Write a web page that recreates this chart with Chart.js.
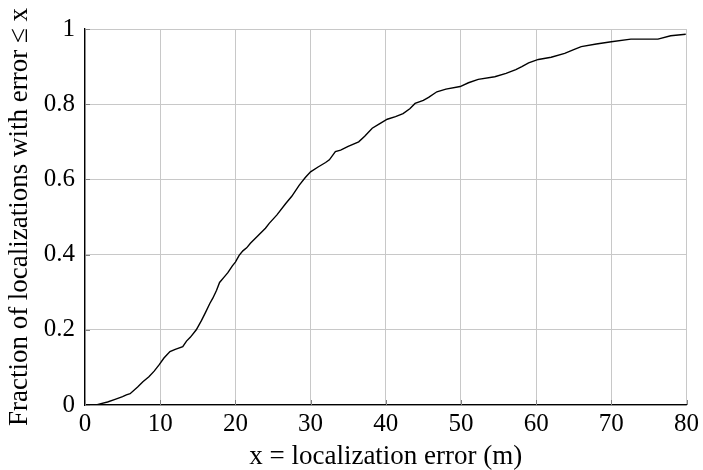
<!DOCTYPE html>
<html>
<head>
<meta charset="utf-8">
<script src="https://cdn.jsdelivr.net/npm/chart.js@4/dist/chart.umd.min.js"></script>
<style>
  html, body { margin: 0; padding: 0; background: #fff; }
  #wrap { width: 703px; height: 470px; }
</style>
</head>
<body>
<div id="wrap"><canvas id="cdf" width="703" height="470"></canvas></div>
<script>
// Empirical CDF of localization error
const errorM = [1.5, 2, 3, 4, 5, 5.5, 6, 7, 7.7, 8.5, 9.2, 9.9, 10.5, 11.3, 12, 13, 13.5, 14, 14.8,
  15.5, 16, 16.6, 17, 17.5, 17.9, 18.5, 19, 19.6, 20, 20.5, 21, 21.5, 22, 23, 24, 24.5, 25.5,
  26.7, 27.5, 28.5, 29.3, 30, 31, 32, 32.5, 33.3, 34, 35, 36.4, 37.2, 38.2, 39.1, 40.2, 41.3,
  42.3, 43.2, 43.9, 45, 45.7, 46.8, 48, 49.9, 51, 52.3, 54.5, 56, 57.3, 58.1, 59, 60.3, 62,
  63.8, 65, 66, 68, 70, 72.6, 76.2, 77.9, 79.9];
const fraction = [0, 0.003, 0.008, 0.015, 0.022, 0.027, 0.03, 0.048, 0.062, 0.075, 0.09, 0.108,
  0.125, 0.142, 0.148, 0.155, 0.17, 0.18, 0.2, 0.225, 0.245, 0.27, 0.284, 0.305, 0.326, 0.34,
  0.352, 0.37, 0.38, 0.398, 0.41, 0.418, 0.43, 0.45, 0.47, 0.483, 0.505, 0.536, 0.555, 0.585,
  0.605, 0.62, 0.633, 0.645, 0.652, 0.674, 0.678, 0.688, 0.70, 0.715, 0.736, 0.747, 0.76,
  0.767, 0.775, 0.788, 0.802, 0.81, 0.818, 0.833, 0.84, 0.847, 0.857, 0.866, 0.873, 0.882,
  0.892, 0.90, 0.91, 0.919, 0.925, 0.935, 0.945, 0.953, 0.96, 0.966, 0.973, 0.973, 0.982, 0.986];

const xTickValues = [0, 10, 20, 30, 40, 50, 60, 70, 80];
const xTickLabels = ['0', '10', '20', '30', '40', '50', '60', '70', '80'];
const yTickValues = [0, 0.2, 0.4, 0.6, 0.8, 1];
const yTickLabels = ['0', '0.2', '0.4', '0.6', '0.8', '1'];

const xTitle = 'x = localization error (m)';
const yTitle = 'Fraction of localizations with error \u2264 x';

const FONT = '"Liberation Serif", "DejaVu Serif", serif';
const GRID = '#c8c8c8';

function labelFor(values, labels, v) {
  const i = values.findIndex(t => Math.abs(t - v) < 1e-9);
  return i >= 0 ? labels[i] : '';
}

// short inward tick marks along the left and bottom axis lines
const innerTicks = {
  id: 'innerTicks',
  afterDatasetsDraw(chart) {
    const { ctx, chartArea, scales } = chart;
    ctx.save();
    ctx.strokeStyle = '#808080';
    ctx.lineWidth = 1;
    ctx.beginPath();
    xTickValues.forEach(v => {
      const px = Math.round(scales.x.getPixelForValue(v)) + 0.5;
      ctx.moveTo(px, chartArea.bottom);
      ctx.lineTo(px, chartArea.bottom - 5);
    });
    yTickValues.forEach(v => {
      const py = Math.round(scales.y.getPixelForValue(v)) + 0.5;
      ctx.moveTo(chartArea.left, py);
      ctx.lineTo(chartArea.left + 5, py);
    });
    ctx.stroke();
    ctx.restore();
  }
};

const points = errorM.map((x, i) => ({ x, y: fraction[i] }));

new Chart(document.getElementById('cdf'), {
  type: 'line',
  data: {
    datasets: [{
      data: points,
      borderColor: '#000',
      borderWidth: 1.4,
      pointRadius: 0,
      tension: 0,
      fill: false
    }]
  },
  options: {
    responsive: false,
    animation: false,
    layout: { padding: { top: 29, right: 14, left: 0, bottom: 0 } },
    plugins: { legend: { display: false }, tooltip: { enabled: false } },
    scales: {
      x: {
        type: 'linear',
        min: 0, max: 80,
        afterBuildTicks(scale) { scale.ticks = xTickValues.map(v => ({ value: v })); },
        afterFit(scale) { scale.height = 65; },
        border: { display: true, color: '#000', width: 1.3 },
        grid: { color: GRID, lineWidth: 1, drawTicks: false },
        ticks: {
          padding: 4,
          color: '#000',
          font: { family: FONT, size: 25 },
          maxRotation: 0,
          callback: v => labelFor(xTickValues, xTickLabels, v)
        },
        title: {
          display: true, text: xTitle, color: '#000',
          font: { family: FONT, size: 27, lineHeight: 1 },
          padding: { top: 0, bottom: 0 }
        }
      },
      y: {
        type: 'linear',
        min: 0, max: 1,
        afterBuildTicks(scale) { scale.ticks = yTickValues.map(v => ({ value: v })); },
        afterFit(scale) { scale.width = 85; },
        border: { display: true, color: '#000', width: 1.3 },
        grid: { color: GRID, lineWidth: 1, drawTicks: false },
        ticks: {
          padding: 10,
          color: '#000',
          font: { family: FONT, size: 25 },
          callback: v => labelFor(yTickValues, yTickLabels, v)
        },
        title: {
          display: true, text: yTitle, color: '#000',
          font: { family: FONT, size: 27, lineHeight: 1 },
          padding: { top: 6, bottom: 6 }
        }
      }
    }
  },
  plugins: [innerTicks]
});
</script>
</body>
</html>
